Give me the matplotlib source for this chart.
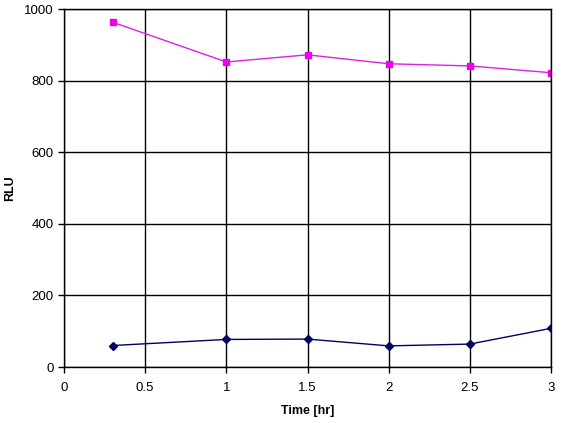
import matplotlib
matplotlib.use("Agg")
import matplotlib.pyplot as plt

# values
time_hr = [0.3, 1.0, 1.5, 2.0, 2.5, 3.0]
rlu_top = [963, 852, 872, 847, 841, 822]
rlu_bottom = [60, 77, 78, 59, 64, 108]

x_ticks = [0, 0.5, 1, 1.5, 2, 2.5, 3]
x_labels = ["0", "0.5", "1", "1.5", "2", "2.5", "3"]
y_ticks = [0, 200, 400, 600, 800, 1000]

plt.rcParams['font.family'] = ['Liberation Sans', 'DejaVu Sans']

fig = plt.figure(figsize=(5.62, 4.23), dpi=100)
ax = fig.add_axes([64 / 562, 56 / 423, 487 / 562, 358 / 423])

ax.plot(time_hr, rlu_top, color='#DD22DD', lw=1.0, marker='s', ms=4.5,
        mfc='#EE00EE', mec='#EE00EE')
ax.plot(time_hr, rlu_bottom, color='#000066', lw=1.0, marker='D', ms=4,
        mfc='#000066', mec='#000066')

ax.set_xlim(0, 3)
ax.set_ylim(0, 1000)
ax.set_xticks(x_ticks)
ax.set_xticklabels(x_labels)
ax.set_yticks(y_ticks)
ax.grid(True, color='black', lw=1.0)
ax.set_axisbelow(True)
for s in ax.spines.values():
    s.set_color('black')
    s.set_linewidth(1.0)

ax.tick_params(axis='both', direction='out', length=4, width=1, labelsize=9.5,
               colors='black')
ax.tick_params(axis='x', pad=7)
ax.set_xlabel("Time [hr]", fontsize=9, fontweight='bold', labelpad=8)
ax.set_ylabel("RLU", fontsize=9, fontweight='bold', va='center')
ax.yaxis.set_label_coords(-0.11, 0.5)

fig.savefig("out.png", dpi=100)
